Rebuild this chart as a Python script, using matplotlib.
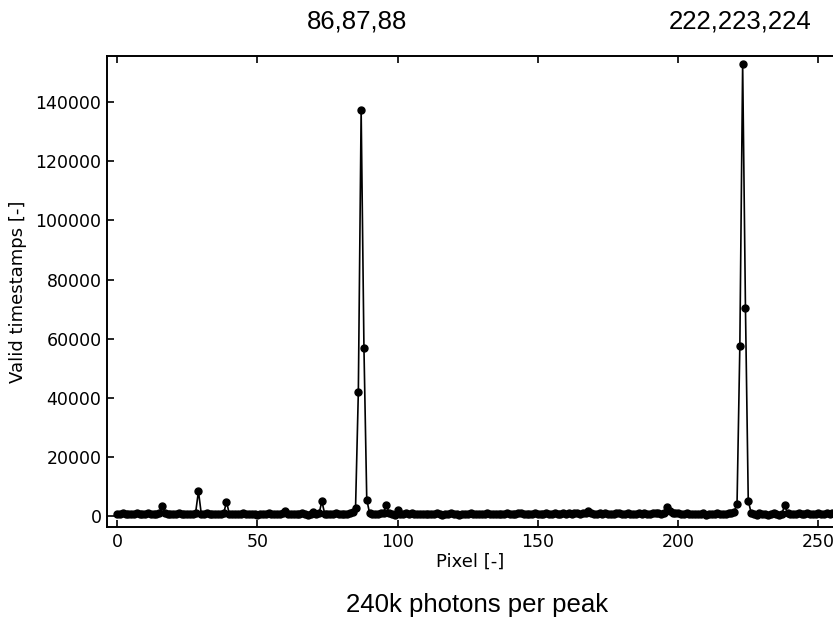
import matplotlib
matplotlib.use("Agg")
import matplotlib.pyplot as plt
import numpy as np

# Valid timestamps per pixel (0..255)
counts = [
    800, 650, 900, 700, 850, 600, 750, 900, 650, 800, 700, 950, 600, 800, 750, 1000,
    3400, 900, 700, 850, 600, 800, 950, 700, 650, 850, 800, 700, 1200, 8400, 800, 650,
    900, 750, 700, 850, 600, 800, 900, 4900, 700, 850, 650, 800, 750, 900, 700, 800,
    650, 850, 200, 700, 800, 650, 900, 750, 850, 700, 800, 950, 1600, 800, 700, 850,
    600, 750, 900, 700, 300, 800, 1500, 700, 900, 5000, 800, 650, 850, 700, 900, 750,
    700, 850, 600, 900, 1500, 2600, 42000, 137200, 56800, 5600, 1000, 600, 800, 700, 900, 1200,
    3800, 900, 700, 300, 2000, 600, 800, 1200, 700, 900, 650, 800, 750, 600, 850, 700,
    800, 650, 900, 700, 400, 800, 750, 900, 700, 850, 300, 800, 700, 650, 900, 750,
    800, 700, 850, 650, 900, 700, 800, 750, 600, 850, 700, 900, 800, 750, 650, 1200,
    900, 700, 800, 850, 650, 900, 700, 800, 750, 900, 850, 700, 1000, 800, 750, 900,
    850, 950, 700, 1100, 900, 800, 950, 1000, 1800, 900, 800, 850, 1000, 750, 900, 800,
    850, 700, 900, 1100, 800, 750, 900, 850, 700, 800, 950, 750, 900, 850, 800, 950,
    900, 1000, 850, 1200, 3000, 1800, 1200, 900, 1000, 850, 700, 900, 800, 750, 850, 700,
    800, 900, 400, 850, 700, 800, 900, 750, 850, 700, 900, 1000, 1500, 4200, 57500, 153000,
    70500, 5200, 1200, 800, 400, 900, 850, 700, 350, 800, 900, 750, 400, 800, 3700, 900,
    800, 850, 700, 900, 800, 750, 900, 850, 800, 700, 900, 850, 800, 900, 850, 900,
]
pixels = np.arange(len(counts))

peak_labels = ["86,87,88", "222,223,224"]
caption = "240k photons per peak"

fig = plt.figure(figsize=(8.33, 6.21), dpi=100)
# axes runs past the right edge of the picture (cropped in the original)
ax = fig.add_axes([107 / 833, 94 / 621, 740 / 833, 471 / 621])

ax.plot(pixels, counts, 'o-', color='black', markersize=5, linewidth=1.2)

ax.set_xlim(-3.6, 260.2)
ax.set_ylim(-3700, 155600)
ax.set_xticks([0, 50, 100, 150, 200, 250])
ax.set_yticks(np.arange(0, 140001, 20000))

ax.tick_params(direction='in', top=True, length=5, width=1.2, labelsize=12.5, pad=4)
for sp in ax.spines.values():
    sp.set_linewidth(1.4)

ax.set_xlabel('Pixel [-]', fontsize=13, labelpad=4)
ax.set_ylabel('Valid timestamps [-]', fontsize=13, labelpad=6)
ax.xaxis.set_label_coords((470 - 107) / 740, -0.055)

# annotations around the plot
fig.text(357 / 833, 1 - 28 / 621, peak_labels[0], ha='center', va='baseline',
         fontsize=18.5, family='Liberation Sans')
fig.text(740 / 833, 1 - 28 / 621, peak_labels[1], ha='center', va='baseline',
         fontsize=18.5, family='Liberation Sans')
fig.text(477 / 833, 1 - 612 / 621, caption, ha='center', va='baseline',
         fontsize=18.5, family='Liberation Sans')

fig.savefig('out.png', dpi=100)
